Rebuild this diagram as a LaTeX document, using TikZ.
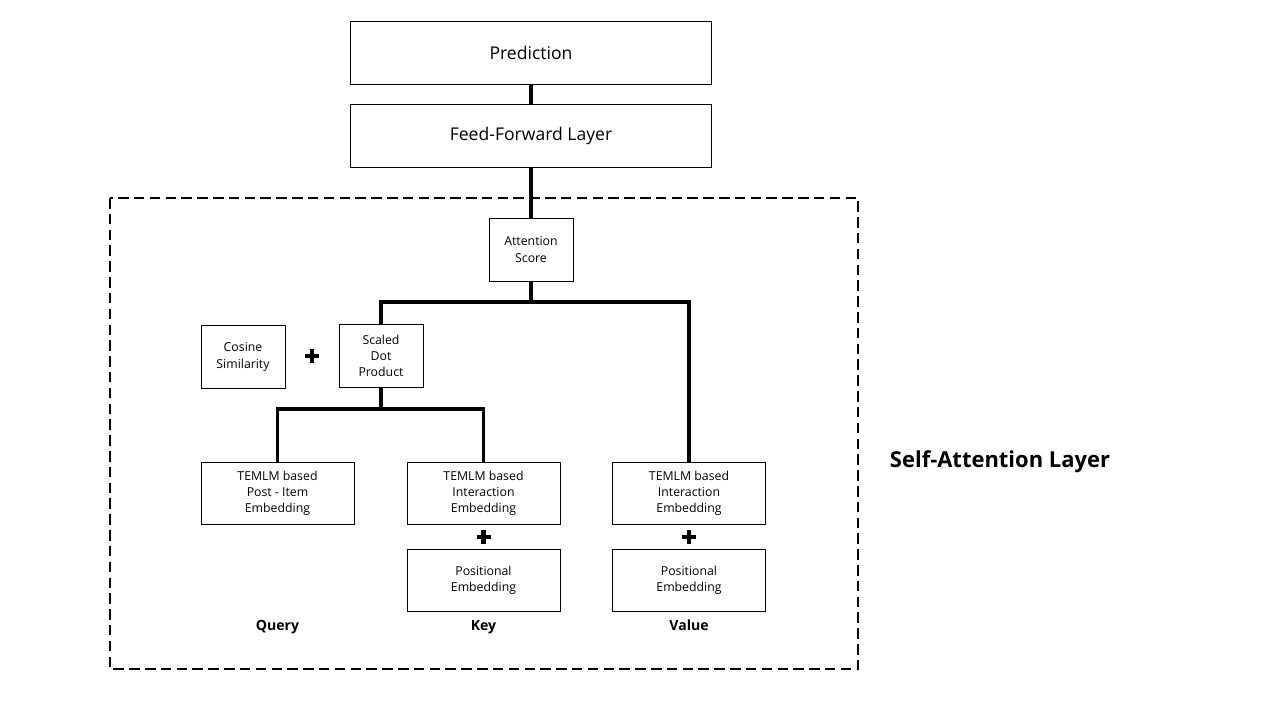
\documentclass[tikz,border=0pt]{standalone}
\usepackage{fontspec}
\setmainfont{Open Sans}
\begin{document}
\begin{tikzpicture}[x=0.02cm,y=-0.02cm,
  bigbox/.style={draw, line width=0.55pt, minimum width=7.24cm, minimum height=1.26cm, inner sep=0pt, font=\fontsize{10}{12}\selectfont},
  smallbox/.style={draw, line width=0.55pt, minimum width=1.68cm, minimum height=1.26cm, inner sep=0pt, align=center, font=\fontsize{7}{9.2}\selectfont},
  embbox/.style={draw, line width=0.55pt, minimum width=3.06cm, minimum height=1.24cm, inner sep=0pt, align=center, font=\fontsize{7}{9.2}\selectfont},
  conn/.style={line width=2.2pt},
  plusmark/.style={line width=2.6pt},
  lbl/.style={font=\bfseries\fontsize{8}{10}\selectfont, anchor=base},
]
\useasboundingbox (0,0) rectangle (1280,720);
\draw[line width=1.6pt, dash pattern=on 6pt off 3pt] (110,198) rectangle (858,669);

\node[bigbox] (pred) at (531,52.5) {Prediction};
\node[bigbox] (ff) at (531,136) {Feed-Forward Layer};
\node[smallbox] (att) at (531,249.5) {Attention\\Score};
\node[smallbox] (sdp) at (381,356) {Scaled\\Dot\\Product};
\node[smallbox] (cos) at (243,357) {Cosine\\Similarity};
\node[embbox] (q) at (277.5,493) {TEMLM based\\Post - Item\\Embedding};
\node[embbox] (k) at (483.5,493) {TEMLM based\\Interaction\\Embedding};
\node[embbox] (v) at (689,493) {TEMLM based\\Interaction\\Embedding};
\node[embbox] (kp) at (483.5,580.5) {Positional\\Embedding};
\node[embbox] (vp) at (689,580.5) {Positional\\Embedding};

\node[lbl] (ql) at (277.5,630) {Query};
\node[lbl] (kl) at (483.5,630) {Key};
\node[lbl] (vl) at (689,630) {Value};
\node[font=\bfseries\fontsize{12.5}{15}\selectfont] (sal) at (1000,462) {Self-Attention Layer};

% plus signs
\foreach \px/\py in {312/356, 483.5/537, 689/537}{
  \draw[plusmark] (\px-7,\py) -- (\px+7,\py);
  \draw[plusmark] (\px,\py-7) -- (\px,\py+7);
}

% connectors
\coordinate (j1) at (531,302);
\coordinate (j2) at (381,409);
\draw[conn] (pred.south) -- (ff.north);
\draw[conn] (ff.south) -- (att.north);
\draw[conn] (att.south) -- (j1);
\draw[conn] (sdp.north) |- (j1) -| (v.north);
\draw[conn] (sdp.south) -- (j2);
\draw[conn] (q.north) |- (j2) -| (k.north);
\end{tikzpicture}
\end{document}
